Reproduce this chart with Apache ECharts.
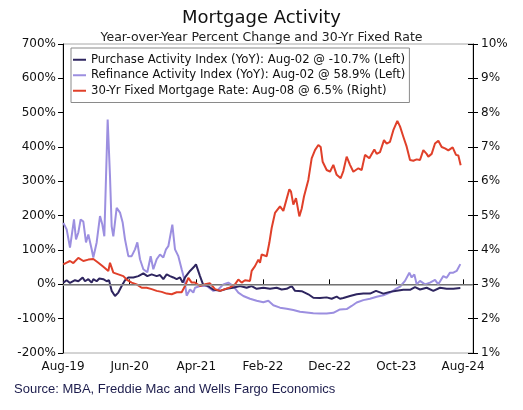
<!DOCTYPE html>
<html>
<head>
<meta charset="utf-8">
<script src="https://cdn.jsdelivr.net/npm/echarts@6/dist/echarts.min.js"></script>
<style>
html,body{margin:0;padding:0;background:#fff;}
#chart{width:523px;height:410px;}
</style>
</head>
<body>
<div id="chart"></div>
<script>
// x values are months since Aug-2019
const xTickLabels = ['Aug-19','Jun-20','Apr-21','Feb-22','Dec-22','Oct-23','Aug-24'];

const purchaseX = [0.05,0.55,1.05,1.8,2.3,2.95,3.3,3.8,4.3,4.55,5.05,5.45,6.05,6.55,6.9,7.3,7.8,8.3,8.8,9.3,9.8,10.55,11.3,12.05,12.65,13.3,14.05,14.55,15.05,15.55,16.05,16.55,17.05,17.55,17.95,18.3,19.05,19.7,19.95,20.55,21.0,21.75,22.5,23.55,24.55,25.5,26.55,27.55,28.3,29.05,30.05,31.05,32.05,32.8,33.55,34.3,34.8,35.8,36.8,37.55,38.55,39.55,40.3,41.05,41.55,42.05,43.05,44.05,45.05,46.05,46.95,48.05,49.05,50.05,51.05,52.05,52.8,53.55,54.55,55.55,56.55,57.55,58.55,59.6];
const purchaseY = [5,12,4,12,9,20,9,15,5,15,9,17,15,9,12,-19,-34,-24,-5,12,20,20,24,32,24,29,24,27,15,29,24,20,15,20,5,20,39,52,58,24,0,-5,-15,-19,-13,-10,-5,-10,-5,-13,-10,-13,-10,-15,-13,-5,-19,-20,-29,-39,-40,-38,-42,-36,-42,-40,-34,-29,-27,-27,-19,-27,-22,-19,-16,-16,-8,-15,-10,-19,-10,-13,-13,-10.7];

const refiX = [0.05,0.55,1.05,1.65,1.95,2.3,2.65,3.05,3.45,3.8,4.3,4.55,5.05,5.55,5.9,6.2,6.7,7.05,7.3,7.55,8.05,8.55,8.95,9.3,9.8,10.3,10.8,11.15,11.55,12.05,12.65,13.15,13.55,14.05,14.55,15.05,15.45,15.8,16.4,16.8,17.3,17.8,18.2,18.55,19.05,19.55,19.8,20.55,21.55,22.55,23.3,24.05,24.8,25.55,26.3,27.05,28.05,29.05,30.05,30.8,31.55,32.55,33.55,34.55,35.55,36.55,37.55,38.55,39.55,40.55,41.05,41.55,42.55,43.3,44.05,45.05,46.05,47.05,48.05,49.05,49.8,50.55,51.3,51.95,52.3,52.7,53.05,53.55,54.3,55.05,55.8,56.3,57.05,57.55,58.05,58.55,59.05,59.3,59.6];
const refiY = [179,160,107,189,131,151,189,183,122,145,102,78,122,199,174,140,480,315,169,140,223,209,180,131,82,82,102,122,73,44,35,82,44,73,87,78,102,111,174,102,82,44,15,-33,-15,-24,-10,-5,-5,-19,-15,0,5,-5,-24,-34,-42,-48,-52,-48,-61,-68,-71,-75,-80,-82,-84,-85,-85,-83,-78,-73,-72,-63,-53,-46,-42,-36,-32,-24,-15,-7,10,34,20,29,0,10,0,5,13,0,24,19,34,34,39,34,58.9];

const rateX = [0.05,0.55,1.05,1.55,2.3,3.05,3.8,4.55,5.3,6.05,6.8,7.05,7.55,8.3,9.05,9.55,10.3,11.05,11.8,12.55,13.3,14.05,14.8,15.55,16.3,17.05,17.8,18.3,18.8,19.3,19.8,20.55,21.3,22.05,22.8,23.55,24.3,25.05,25.8,26.3,26.8,27.3,28.05,28.3,28.8,29.3,29.55,29.8,30.05,30.55,30.95,31.3,31.8,32.55,33.05,33.95,34.2,34.55,34.95,35.45,35.8,36.15,36.8,37.3,37.8,38.3,38.65,38.95,39.55,40.05,40.55,41.05,41.65,42.05,42.55,43.05,43.55,44.3,44.8,45.3,45.95,46.7,47.05,47.55,48.15,48.55,49.05,49.55,50.15,50.55,51.05,51.55,52.05,52.55,53.05,53.55,54.05,54.55,54.8,55.3,55.8,56.3,56.8,57.3,57.8,58.45,58.95,59.3,59.65];
const rateY = [3.58,3.63,3.68,3.62,3.77,3.68,3.72,3.74,3.63,3.51,3.39,3.63,3.34,3.29,3.24,3.14,3.05,3.0,2.90,2.90,2.86,2.81,2.78,2.73,2.71,2.77,2.77,2.95,3.19,3.05,3.05,2.95,3.0,3.03,2.86,2.81,2.86,2.91,3.0,3.14,3.05,3.12,3.1,3.39,3.53,3.72,3.63,3.87,3.92,3.82,4.21,4.64,5.08,5.27,5.14,5.77,5.7,5.32,5.51,4.98,5.2,5.56,6.04,6.67,6.91,7.06,7.0,6.57,6.33,6.28,6.48,6.19,6.09,6.3,6.72,6.48,6.28,6.38,6.33,6.77,6.67,6.93,6.8,6.85,7.2,7.1,7.15,7.49,7.76,7.6,7.3,7.01,6.62,6.6,6.64,6.62,6.91,6.8,6.72,6.8,7.1,7.18,7.0,6.96,6.9,6.99,6.77,6.75,6.47];

const seriesNames = [
  'Purchase Activity Index (YoY): Aug-02 @ -10.7% (Left)',
  'Refinance Activity Index (YoY): Aug-02 @ 58.9% (Left)',
  '30-Yr Fixed Mortgage Rate: Aug-08 @ 6.5% (Right)'
];
const colors = ['#2E255F', '#9C8FE0', '#E0402A'];

function pairs(xs, ys){ return xs.map((x,i)=>[x, ys[i]]); }

const FONT = 'DejaVu Sans';
const chart = echarts.init(document.getElementById('chart'), null, {renderer:'canvas'});
chart.setOption({
  animation: false,
  backgroundColor: '#fff',
  title: [
    {text: 'Mortgage Activity', left: 'center', top: 4,
     textStyle: {fontFamily: FONT, fontSize: 18, fontWeight: 'normal', color: '#111'}},
    {text: 'Year-over-Year Percent Change and 30-Yr Fixed Rate', left: 'center', top: 26,
     textStyle: {fontFamily: FONT, fontSize: 12.5, fontWeight: 'normal', color: '#222'}},
    {text: 'Source: MBA, Freddie Mac and Wells Fargo Economics', left: 9, top: 378,
     textStyle: {fontFamily: 'Liberation Sans', fontSize: 13, fontWeight: 'normal', color: '#1C1C4C'}}
  ],
  legend: {
    orient: 'vertical', left: 71, top: 48,
    data: seriesNames,
    itemWidth: 13, itemHeight: 2, itemGap: 2,
    icon: 'rect',
    padding: [5, 4, 5, 2],
    borderColor: '#8a8a8a', borderWidth: 1,
    backgroundColor: '#fff',
    textStyle: {fontFamily: FONT, fontSize: 11.7, color: '#111', lineHeight: 13.5}
  },
  grid: {left: 63, right: 50, top: 44, bottom: 57, show: true, borderColor: '#a8a8a8', borderWidth: 1},
  xAxis: {
    type: 'value', min: 0, max: 61.5, interval: 10,
    axisLine: {lineStyle: {color: '#000', width: 1}},
    axisTick: {inside: true, length: 5, lineStyle: {color: '#000'}},
    axisLabel: {fontFamily: FONT, fontSize: 12, color: '#111', margin: 8,
      formatter: v => (Math.abs(v % 10) < 1e-6 ? (xTickLabels[Math.round(v/10)] || '') : '')},
    splitLine: {show: false}
  },
  yAxis: [
    {type: 'value', min: -200, max: 700, interval: 100, position: 'left',
     axisLine: {show: true, lineStyle: {color: '#000'}},
     axisTick: {show: true, length: 5, lineStyle: {color: '#000'}},
     axisLabel: {fontFamily: FONT, fontSize: 12, color: '#111', margin: 7, formatter: '{value}%'},
     splitLine: {show: false}},
    {type: 'value', min: 1, max: 10, interval: 1, position: 'right',
     axisLine: {show: true, lineStyle: {color: '#000'}},
     axisTick: {show: true, length: 5, lineStyle: {color: '#000'}},
     axisLabel: {fontFamily: FONT, fontSize: 12, color: '#111', margin: 8, formatter: '{value}%'},
     splitLine: {show: false}},
    {type: 'value', min: 1, max: 10, interval: 1, position: 'right',
     axisLine: {show: false},
     axisTick: {show: true, inside: true, length: 5, lineStyle: {color: '#000'}},
     axisLabel: {show: false},
     splitLine: {show: false}}
  ],
  series: [
    {name: seriesNames[1], type: 'line', yAxisIndex: 0, showSymbol: false, symbol: 'none',
     data: pairs(refiX, refiY), color: colors[1], lineStyle: {width: 2, color: colors[1]},
     markLine: {silent: true, symbol: 'none', label: {show: false},
       lineStyle: {color: '#9a9a9a', width: 1.5, type: 'solid'}, data: [{yAxis: 0}]}},
    {name: seriesNames[0], type: 'line', yAxisIndex: 0, showSymbol: false, symbol: 'none',
     data: pairs(purchaseX, purchaseY), color: colors[0], lineStyle: {width: 2, color: colors[0]}},
    {name: seriesNames[2], type: 'line', yAxisIndex: 1, showSymbol: false, symbol: 'none',
     data: pairs(rateX, rateY), color: colors[2], lineStyle: {width: 2, color: colors[2]}}
  ]
});
</script>
</body>
</html>
